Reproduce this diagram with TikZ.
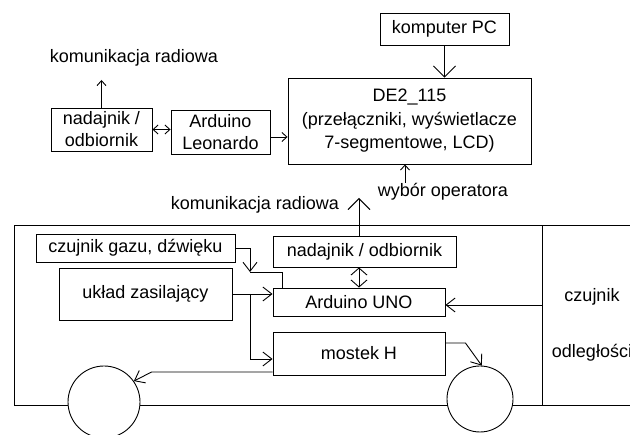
\documentclass[tikz,border=0pt]{standalone}
\usepackage{fontspec}
\setmainfont{Liberation Sans}
\usetikzlibrary{arrows.meta, positioning}

\tikzset{
  blok/.style={draw, inner sep=0pt, align=center},
  kolo/.style={draw, circle, fill=white, inner sep=0pt},
  napis/.style={inner sep=0pt, align=center},
  mala/.style={-{Straight Barb[length=5pt,width=9pt]}},
  mala2/.style={{Straight Barb[length=5pt,width=9pt]}-{Straight Barb[length=5pt,width=9pt]}},
  srednia/.style={-{Straight Barb[length=9pt,width=14pt]}},
  srednia2/.style={{Straight Barb[length=7pt,width=16pt]}-{Straight Barb[length=7pt,width=16pt]}},
  duza/.style={-{Straight Barb[length=11pt,width=22pt]}}
}

\begin{document}
\begin{tikzpicture}[x=1pt, y=-1pt, line width=0.9pt, font=\fontsize{18}{22}\selectfont]
            \clip (0,0) rectangle (630,435);
            % stacja operatora
            \node[napis] (kom1) at (134,58) {komunikacja radiowa};
            \node[blok, minimum width=101, minimum height=43] (nad1) at (101.5,129.5) {nadajnik /\\odbiornik};
            \node[blok, minimum width=99, minimum height=44] (leo) at (220.5,132) {Arduino\\Leonardo};
            \node[blok, minimum width=243, minimum height=86, font=\fontsize{18}{23.5}\selectfont] (de2) at (409.5,121) {DE2\_115\\(przełączniki, wyświetlacze\\7-segmentowe, LCD)};
            \node[blok, minimum width=129, minimum height=32] (pc) at (444.5,29) {komputer PC};
            \node[napis] (wyb) at (443,192) {wybór operatora};
            \node[napis] (kom2) at (255,205) {komunikacja radiowa};
            % pojazd
            \node[blok, minimum width=528, minimum height=180] (podw) at (278,315) {};
            \node[blok, minimum width=100, minimum height=180] (czo) at (592,315) {};
            \node[napis] (czot) at (592,325) {czujnik\\[34pt]odległości};
            \node[blok, minimum width=199, minimum height=28] (czg) at (135.5,248) {czujnik gazu, dźwięku};
            \node[blok, minimum width=173, minimum height=52] (zas) at (145.5,294) {układ zasilający};
            \node[blok, minimum width=183, minimum height=31] (nad2) at (364.5,251.5) {nadajnik / odbiornik};
            \node[blok, minimum width=172, minimum height=28] (uno) at (359,302) {Arduino UNO};
            \node[blok, minimum width=172, minimum height=43] (most) at (359,353.5) {mostek H};
            \node[kolo, minimum size=72] (kl) at (104,402) {};
            \node[kolo, minimum size=66] (kp) at (480,399) {};
            % polaczenia
            \coordinate (k1) at (101.5,80);
            \coordinate (k2) at (359,198);
            \coordinate (w1) at (405,183);
            \coordinate (g1) at (250,272);
            \draw[mala] (nad1.north) -- (k1);
            \draw[mala2] (nad1.east) -- (nad1.east -| leo.west);
            \draw[mala] ([yshift=-5pt]leo.east) -- ([yshift=-5pt]leo.east -| de2.west);
            \draw[duza] (pc.south) -- (pc.south |- de2.north);
            \draw[mala] (w1) -- (w1 |- de2.south);
            \draw[duza] (k2 |- nad2.north) -- (k2);
            \draw[srednia2] (uno.north) -- (uno.north |- nad2.south);
            \draw[srednia] (czg.east) -| (g1);
            \draw (g1) -| ([xshift=10pt]uno.north west);
            \draw[srednia] (zas.east) -- (zas.east -| uno.west);
            \draw[srednia] (zas.east -| g1) |- ([yshift=-5.5pt]most.west);
            \draw[srednia] ([yshift=-18.5pt]most.west) -- ++(-121,0) -- (kl.35);
            \draw[srednia] ([yshift=10.5pt]most.east) -- ++(20,0) -- (kp.87);
            \draw[srednia] ([yshift=-3pt]uno.east -| czo.west) -- ([yshift=-3pt]uno.east);
\end{tikzpicture}
\end{document}
